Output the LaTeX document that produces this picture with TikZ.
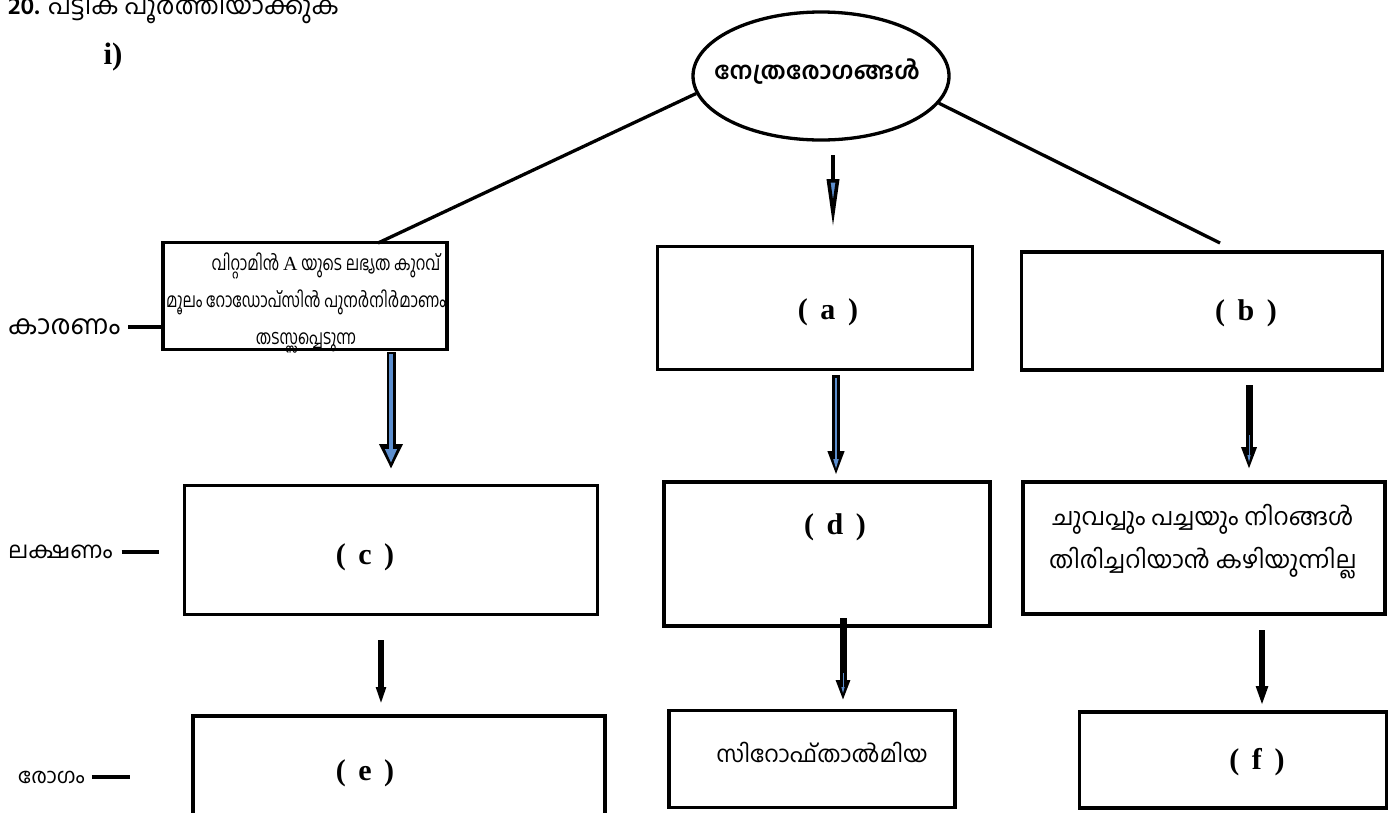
\documentclass[tikz,border=0pt]{standalone}
\usepackage{fontspec}
\usepackage{tikz}
\usetikzlibrary{shapes.geometric,arrows.meta}
\newfontfamily\malfont[Script=Malayalam]{Hind Kochi}
\newfontfamily\malnarrow[Script=Malayalam, FakeStretch=0.76]{Hind Kochi}
\newfontfamily\latfont{Liberation Serif}
\definecolor{arrowblue}{RGB}{92,142,206}
\tikzstyle{box}=[rectangle, draw=black, line width=3.3pt, inner sep=0pt, anchor=center]
\tikzstyle{annot}=[align=center, inner sep=0pt, font=\malfont\fontsize{23}{43}\selectfont]
\tikzstyle{letter}=[inner sep=0pt, font=\latfont\bfseries\fontsize{30}{32}\selectfont]
\tikzstyle{tick}=[line width=3.3pt]
\newcommand{\gap}{\hspace{0.42em}}

\begin{document}
\begin{tikzpicture}[x=1pt, y=-1pt]
	\useasboundingbox (0,0) rectangle (1399,812);

	% heading
	\node[anchor=base west, inner sep=0pt, font=\malfont\fontsize{25}{28}\selectfont] (title) at (8,14) {\textbf{20.} പട്ടിക പൂർത്തിയാക്കുക};
	\node[letter, font=\latfont\bfseries\fontsize{31}{34}\selectfont] (part) at (113,57) {i)};

	% top ellipse
	\node[ellipse, draw=black, line width=3.3pt, minimum width=256pt, minimum height=128pt, inner sep=0pt] (eye) at (821,76) {};
	\node[inner sep=0pt, font=\malfont\bfseries\fontsize{24}{28}\selectfont] (eyetext) at (817,72) {നേത്രരോഗങ്ങൾ};

	% boxes
	\node[box, minimum width=284pt, minimum height=107pt] (cause) at (305,296) {};
	\node[box, minimum width=315pt, minimum height=123pt] (boxa) at (815,308) {};
	\node[box, minimum width=361pt, minimum height=118pt] (boxb) at (1202,311) {};
	\node[box, minimum width=413pt, minimum height=129pt] (boxc) at (391,550) {};
	\node[box, minimum width=326pt, minimum height=144pt] (boxd) at (827,554) {};
	\node[box, minimum width=362pt, minimum height=132pt] (symp) at (1204,548) {};
	\node[box, minimum width=412pt, minimum height=104pt] (boxe) at (399,768) {};
	\node[box, minimum width=286pt, minimum height=97pt] (xero) at (812,759) {};
	\node[box, minimum width=307pt, minimum height=96pt] (boxf) at (1233,760) {};

	% texts in boxes
	\node[annot, font=\malnarrow\fontsize{20}{37}\selectfont] (causetext) at (306,303) {\hspace{40pt}വിറ്റാമിൻ {\latfont A} യുടെ ലഭ്യത കുറവ്\\മൂലം റോഡോപ്സിൻ പുനർനിർമാണം\\തടസ്സപ്പെടുന്ന};
	\node[annot, font=\malfont\fontsize{24}{43}\selectfont] (symptext) at (1203,542) {ചുവപ്പും പച്ചയും നിറങ്ങൾ\\തിരിച്ചറിയാൻ കഴിയുന്നില്ല};
	\node[annot] (xerotext) at (822,752) {സിറോഫ്താൽമിയ};
	\node[letter] (la) at (828,312) {(\gap a\gap)};
	\node[letter] (lb) at (1246,313) {(\gap b\gap)};
	\node[letter] (lc) at (365,557) {(\gap c\gap)};
	\node[letter] (ld) at (835,527) {(\gap d\gap)};
	\node[letter] (le) at (365,773) {(\gap e\gap)};
	\node[letter] (lf) at (1257,762) {(\gap f\gap)};

	% row labels
	\node[annot, anchor=west, font=\malfont\fontsize{27}{30}\selectfont] (kar) at (8,327) {കാരണം};
	\node[annot, anchor=west] (lak) at (8,552) {ലക്ഷണം};
	\node[annot, anchor=west, font=\malfont\fontsize{21}{24}\selectfont] (rog) at (18,777) {രോഗം};
	\draw[tick] ([xshift=8pt]kar.east) -- (kar.east -| cause.west);
	\draw[tick] ([xshift=9pt]lak.east) -- ++(37,0);
	\draw[tick] ([xshift=7pt]rog.east) -- ++(38,0);

	% branches from the ellipse
	\coordinate (lfoot) at (378,243);
	\coordinate (rfoot) at (1220,243);
	\draw[tick] (eye.188) -- (lfoot);
	\draw[tick] (eye.-13) -- (rfoot);

	% arrow ends
	\coordinate (t0) at (833,155);  \coordinate (t1) at (833,227);
	\coordinate (c0) at (391,352);  \coordinate (c1) at (391,469);
	\coordinate (a0) at (836,375);  \coordinate (a1) at (836,476);
	\coordinate (b0) at (1249,385); \coordinate (b1) at (1249,470);
	\coordinate (e0) at (381,640);  \coordinate (e1) at (381,705);
	\coordinate (x0) at (843,618);  \coordinate (x1) at (843,701);
	\coordinate (f0) at (1262,630); \coordinate (f1) at (1262,706);

	\draw[line width=3.6pt, -{Triangle[length=48pt, width=12pt, fill=arrowblue]}] (t0) -- (t1);

	\draw[line width=9pt, -{Triangle[length=25pt, width=22pt]}] (c0) -- (c1);
	\draw[arrowblue, line width=4pt, shorten <=2pt, shorten >=6pt, -{Triangle[length=14pt, width=11pt]}] (c0) -- (c1);

	\draw[line width=8pt, -{Triangle[length=25pt, width=15pt]}] (a0) -- (a1);
	\draw[arrowblue, line width=1.8pt, shorten <=3pt, shorten >=7pt, -{Triangle[length=10pt, width=5pt]}] (a0) -- (a1);

	\draw[line width=7pt, -{Triangle[length=23pt, width=14pt]}] (b0) -- (b1);
	\draw[arrowblue, line width=0.8pt, shorten <=50pt, shorten >=8pt, -{Triangle[length=7pt, width=3pt]}] (b0) -- (b1);

	\draw[line width=6pt, -{Triangle[length=18pt, width=9pt]}] (e0) -- (e1);

	\draw[line width=7pt, -{Triangle[length=21pt, width=13pt]}] (x0) -- (x1);
	\draw[arrowblue, line width=0.8pt, shorten <=55pt, shorten >=8pt, -{Triangle[length=6pt, width=3pt]}] (x0) -- (x1);

	\draw[line width=6pt, -{Triangle[length=20pt, width=11pt]}] (f0) -- (f1);

\end{tikzpicture}
\end{document}
